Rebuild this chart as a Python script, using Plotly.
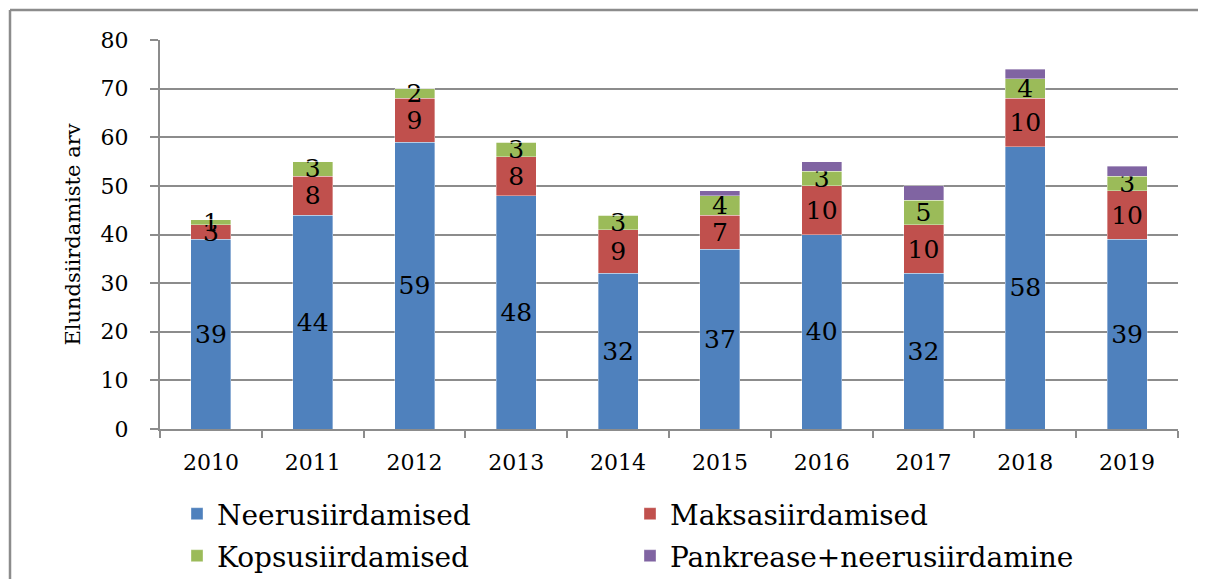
import plotly.graph_objects as go

years = ["2010", "2011", "2012", "2013", "2014", "2015", "2016", "2017", "2018", "2019"]
neeru = [39, 44, 59, 48, 32, 37, 40, 32, 58, 39]
maksa = [3, 8, 9, 8, 9, 7, 10, 10, 10, 10]
kopsu = [1, 3, 2, 3, 3, 4, 3, 5, 4, 3]
pankreas = [0, 0, 0, 0, 0, 1, 2, 3, 2, 2]

names = ["Neerusiirdamised", "Maksasiirdamised", "Kopsusiirdamised", "Pankrease+neerusiirdamine"]
colors = ["#4F81BD", "#C0504D", "#9BBB59", "#8064A2"]
series = [neeru, maksa, kopsu, pankreas]
show_text = [True, True, True, False]
legends = ["legend", "legend", "legend2", "legend2"]

FONT = "DejaVu Serif"
GRAY = "#8c8c8c"

fig = go.Figure()
for name, col, vals, st, lg in zip(names, colors, series, show_text, legends):
    fig.add_trace(go.Bar(
        x=years, y=vals, name=name,
        marker=dict(color=col, line=dict(width=0.6, color="rgba(255,255,255,0.6)")),
        text=[str(v) for v in vals] if st else None,
        textposition="inside" if st else "none",
        insidetextanchor="middle",
        textangle=0,
        constraintext="none",
        textfont=dict(family=FONT, size=25, color="black"),
        legend=lg,
    ))

# page coordinates (the page body has an 8px margin)
OFF = 8
W0, W1 = 160, 1178
T0, B0 = 40, 429
FIG_W, FIG_H = 1209 - 2 * OFF, 587 - 2 * OFF
def px(x):
    return (x - W0) / (W1 - W0)
def py(y):
    return (B0 - y) / (B0 - T0)

leg_common = dict(orientation="h", x=px(177), xanchor="left", yanchor="middle",
                  entrywidth=408, entrywidthmode="pixels", traceorder="normal",
                  font=dict(family=FONT, size=28, color="black"), bgcolor="rgba(0,0,0,0)")

fig.update_layout(
    barmode="stack",
    bargap=0.607,
    width=FIG_W, height=FIG_H,
    margin=dict(l=W0 - OFF, r=FIG_W - (W1 - OFF), t=T0 - OFF, b=FIG_H - (B0 - OFF), autoexpand=False),
    paper_bgcolor="white", plot_bgcolor="white",
    font=dict(family=FONT, size=22, color="black"),
    legend=dict(y=py(514), **leg_common),
    legend2=dict(y=py(556), **leg_common),
    xaxis=dict(showline=True, linecolor=GRAY, linewidth=2, ticks="outside", tickson="boundaries",
               ticklen=7, tickcolor=GRAY, tickwidth=2, showgrid=False, automargin=False,
               tickfont=dict(family=FONT, size=22, color="black"), ticklabelstandoff=13),
    yaxis=dict(range=[0, 80], dtick=10, showline=True, linecolor=GRAY, linewidth=2,
               ticks="outside", ticklen=8, tickcolor=GRAY, tickwidth=2, automargin=False,
               showgrid=True, gridcolor=GRAY, gridwidth=2, zeroline=False,
               tickfont=dict(family=FONT, size=22, color="black"), ticklabelstandoff=17,
               title=dict(text="Elundsiirdamiste arv", font=dict(family=FONT, size=21, color="black"),
                          standoff=14)),
    shapes=[
        dict(type="line", xref="paper", yref="paper", x0=px(10), x1=px(10), y0=py(10), y1=py(600),
             line=dict(color=GRAY, width=2.5)),
        dict(type="line", xref="paper", yref="paper", x0=px(10), x1=px(1198), y0=py(10), y1=py(10),
             line=dict(color=GRAY, width=2.5)),
    ],
)

fig.write_html("out.html")
